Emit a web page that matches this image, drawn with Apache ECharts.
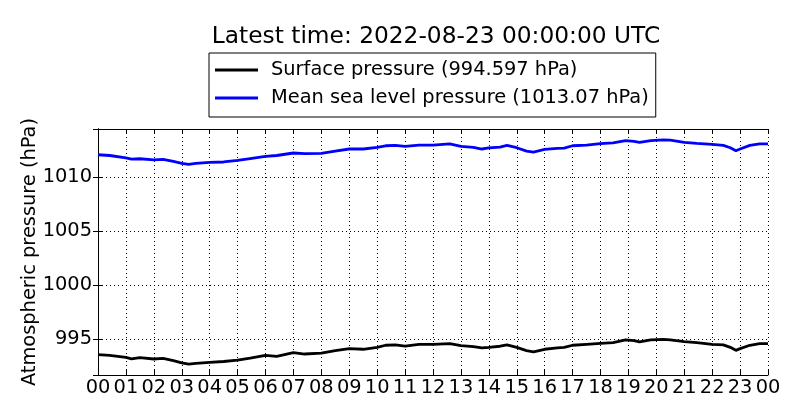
<!DOCTYPE html>
<html>
<head>
<meta charset="utf-8">
<script src="https://cdn.jsdelivr.net/npm/echarts@6/dist/echarts.min.js"></script>
<style>
  html, body { margin: 0; padding: 0; background: #fff; }
  #chart { width: 800px; height: 420px; }
</style>
</head>
<body>
<div id="chart"></div>
<script>
// hours since 00 UTC
var hours = [0, 0.42, 1, 1.2, 1.5, 2, 2.33, 2.7, 3, 3.25, 3.5, 4, 4.5, 5, 5.45, 6, 6.4, 7, 7.4, 8,
  8.5, 9, 9.5, 10, 10.3, 10.65, 11, 11.5, 12, 12.6, 13, 13.45, 13.75, 14, 14.4, 14.65, 15, 15.35,
  15.6, 16, 16.45, 16.7, 17, 17.5, 18, 18.45, 18.9, 19.2, 19.4, 19.8, 20.25, 20.5, 21, 21.45, 22,
  22.4, 22.65, 22.85, 23, 23.35, 23.7, 24];

var surface = [993.58, 993.52, 993.33, 993.2, 993.3, 993.18, 993.24, 993.02, 992.83, 992.71, 992.77,
  992.86, 992.95, 993.08, 993.27, 993.52, 993.43, 993.76, 993.64, 993.73, 993.95, 994.14, 994.08,
  994.26, 994.45, 994.48, 994.36, 994.54, 994.54, 994.6, 994.42, 994.32, 994.2, 994.26, 994.36,
  994.48, 994.26, 993.95, 993.83, 994.08, 994.2, 994.26, 994.45, 994.54, 994.63, 994.7, 994.94,
  994.88, 994.76, 994.94, 995.0, 994.94, 994.79, 994.7, 994.54, 994.48, 994.26, 993.98, 994.14,
  994.45, 994.6, 994.6];

var mslp = [1012.07, 1012.0, 1011.79, 1011.67, 1011.7, 1011.6, 1011.65, 1011.45, 1011.27, 1011.17,
  1011.27, 1011.36, 1011.4, 1011.54, 1011.72, 1011.92, 1012.0, 1012.23, 1012.17, 1012.2, 1012.41,
  1012.6, 1012.6, 1012.75, 1012.9, 1012.93, 1012.84, 1012.96, 1012.96, 1013.07, 1012.84, 1012.75,
  1012.6, 1012.7, 1012.78, 1012.93, 1012.72, 1012.41, 1012.32, 1012.56, 1012.65, 1012.68, 1012.9,
  1012.96, 1013.1, 1013.16, 1013.37, 1013.3, 1013.22, 1013.37, 1013.44, 1013.42, 1013.22, 1013.13,
  1013.03, 1012.93, 1012.72, 1012.44, 1012.6, 1012.93, 1013.07, 1013.07];

var hourLabels = ['00', '01', '02', '03', '04', '05', '06', '07', '08', '09', '10', '11', '12',
  '13', '14', '15', '16', '17', '18', '19', '20', '21', '22', '23', '00'];
var yTicks = [995, 1000, 1005, 1010];

var seriesNames = ['Surface pressure (994.597 hPa)', 'Mean sea level pressure (1013.07 hPa)'];

function pairs(vals) {
  return hours.map(function (h, i) { return [h, vals[i]]; });
}

var font = 'DejaVu Sans';
var myChart = echarts.init(document.getElementById('chart'));

var option = {
  animation: false,
  backgroundColor: '#fff',
  title: {
    text: 'Latest time: 2022-08-23 00:00:00 UTC',
    left: 431,
    top: 20,
    textAlign: 'center',
    textStyle: { fontFamily: font, fontSize: 23.3, fontWeight: 'normal', color: '#000' }
  },
  legend: {
    data: seriesNames,
    orient: 'vertical',
    left: 209,
    top: 53,
    borderColor: '#000',
    borderWidth: 1,
    padding: [6, 7, 8, 6],
    itemGap: 6,
    itemWidth: 43,
    itemHeight: 3,
    icon: 'rect',
    textStyle: { fontFamily: font, fontSize: 19.4, color: '#000', lineHeight: 22, padding: [0, 0, 0, 8] }
  },
  grid: { left: 98, right: 32, top: 129, bottom: 45 },
  xAxis: [{
    type: 'value',
    min: 0,
    max: 24,
    interval: 1,
    axisLine: { lineStyle: { color: '#000', width: 1 } },
    axisTick: { inside: true, length: 5, lineStyle: { color: '#000' } },
    axisLabel: {
      fontFamily: font, fontSize: 19.4, color: '#000', margin: 3,
      formatter: function (v) { return hourLabels[v]; }
    },
    splitLine: { show: true, lineStyle: { color: '#000', type: [1, 3], width: 1 } }
  }, {
    type: 'value',
    position: 'top',
    min: 0,
    max: 24,
    interval: 1,
    axisLine: { lineStyle: { color: '#000', width: 1 } },
    axisTick: { inside: true, length: 5, lineStyle: { color: '#000' } },
    axisLabel: { show: false },
    splitLine: { show: false }
  }],
  yAxis: [{
    type: 'value',
    min: 991.7,
    max: 1014.45,
    splitNumber: 5,
    name: 'Atmospheric pressure (hPa)',
    nameLocation: 'middle',
    nameGap: 59,
    nameMoveOverlap: false,
    nameTextStyle: { fontFamily: font, fontSize: 19.4, color: '#000' },
    axisLine: { show: true, lineStyle: { color: '#000', width: 1 } },
    axisTick: { inside: true, length: 5, lineStyle: { color: '#000' } },
    axisLabel: {
      fontFamily: font, fontSize: 19.4, color: '#000', margin: 6,
      formatter: function (v) { return yTicks.indexOf(Math.round(v * 100) / 100) >= 0 ? String(v) : ''; }
    },
    splitLine: { show: true, lineStyle: { color: '#000', type: [1, 3], width: 1 } }
  }, {
    type: 'value',
    position: 'right',
    min: 991.7,
    max: 1014.45,
    splitNumber: 5,
    axisLine: { show: true, lineStyle: { color: '#000', width: 1 } },
    axisTick: { inside: true, length: 5, lineStyle: { color: '#000' } },
    axisLabel: { show: false },
    splitLine: { show: false }
  }],
  series: [{
    name: seriesNames[0],
    type: 'line',
    data: pairs(surface),
    showSymbol: false,
    color: '#000',
    lineStyle: { color: '#000', width: 2.8 }
  }, {
    name: seriesNames[1],
    type: 'line',
    data: pairs(mslp),
    showSymbol: false,
    color: '#0000ff',
    lineStyle: { color: '#0000ff', width: 2.8 }
  }]
};

myChart.setOption(option);
</script>
</body>
</html>
